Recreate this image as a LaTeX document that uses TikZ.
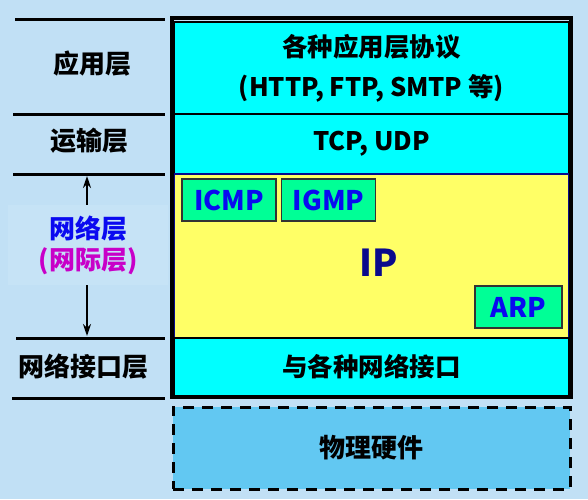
\documentclass[tikz,border=0pt]{standalone}
\usepackage{fontspec}
\setmainfont{Noto Sans CJK SC}
\usetikzlibrary{positioning,arrows.meta}
\definecolor{bgblue}{RGB}{193,224,245}
\definecolor{bglight}{RGB}{198,227,246}
\definecolor{layercyan}{RGB}{0,255,255}
\definecolor{layeryellow}{RGB}{255,255,102}
\definecolor{protogreen}{RGB}{0,255,150}
\definecolor{hwblue}{RGB}{98,200,242}
\definecolor{iptext}{RGB}{10,10,140}
\definecolor{prototext}{RGB}{10,10,240}
\definecolor{netmagenta}{RGB}{200,0,200}

\begin{document}
\begin{tikzpicture}[x=1pt,y=-1pt,
    sep/.style={line width=3pt},
    layer/.style={fill=layercyan,draw=black,line width=1.5pt,inner sep=0pt,
      minimum width=394pt,font=\fontsize{25.5}{40}\selectfont\bfseries,align=center},
    proto/.style={fill=protogreen,draw=black!80,line width=1.5pt,inner sep=0pt,
      minimum width=94pt,minimum height=42pt,text=prototext,font=\fontsize{27}{30}\selectfont\bfseries},
    lbl/.style={font=\fontsize{26}{31}\selectfont\bfseries,align=center}]
  \useasboundingbox[fill=bgblue] (0,0) rectangle (588,499);
  % layers on the right
  \node[layer,minimum height=92pt] (app) at (371.5,68) {\raisebox{3pt}{各种应用层协议}\\\raisebox{3pt}{(HTTP, FTP, SMTP 等)}};
  \node[layer,minimum height=60pt] (tcp) at (371.5,144) {TCP, UDP};
  \node[layer,fill=layeryellow,draw=iptext,minimum height=164pt] (ipl) at (371.5,256) {};
  \node[layer,minimum height=58pt] (nif) at (371.5,367) {与各种网络接口};
  \draw[line width=4pt] (172,18) rectangle (571,397);
  \node[text=iptext,font=\fontsize{37}{40}\selectfont\bfseries] (ip) at (379,263) {IP};
  \node[proto] (icmp) at (229,200) {ICMP};
  \node[proto,right=4pt of icmp] (igmp) {IGMP};
  \node[proto,minimum width=87pt] (arp) at (518.5,307) {ARP};
  \node[lbl,fill=hwblue,draw=black,line width=3pt,dash pattern=on 11pt off 8pt,
    minimum width=397pt,minimum height=82pt,inner sep=0pt] (hw) at (371.5,448) {物理硬件};
  % layer names on the left
  \draw[sep] (15,19) -- (165,19);
  \draw[sep] (13,114) -- (165,114);
  \draw[sep] (13,174) -- (165,174);
  \draw[sep] (16,338) -- (165,338);
  \draw[sep] (12,398) -- (165,398);
  \node[lbl] (appl) at (92,64) {应用层};
  \node[lbl] (tcpl) at (89,141) {运输层};
  \node[lbl,fill=bglight,minimum width=160pt,minimum height=80pt] (netl) at (88,245)
    {\textcolor{prototext}{网络层}\\\textcolor{netmagenta}{(网际层)}};
  \node[lbl] (nifl) at (83,367) {网络接口层};
  \coordinate (up) at (87,176);
  \coordinate (down) at (87,336);
  \draw[line width=2pt,-{Stealth[length=12pt,width=8pt]}] (netl.north -| up) -- (up);
  \draw[line width=2pt,-{Stealth[length=12pt,width=8pt]}] (netl.south -| down) -- (down);
\end{tikzpicture}
\end{document}
